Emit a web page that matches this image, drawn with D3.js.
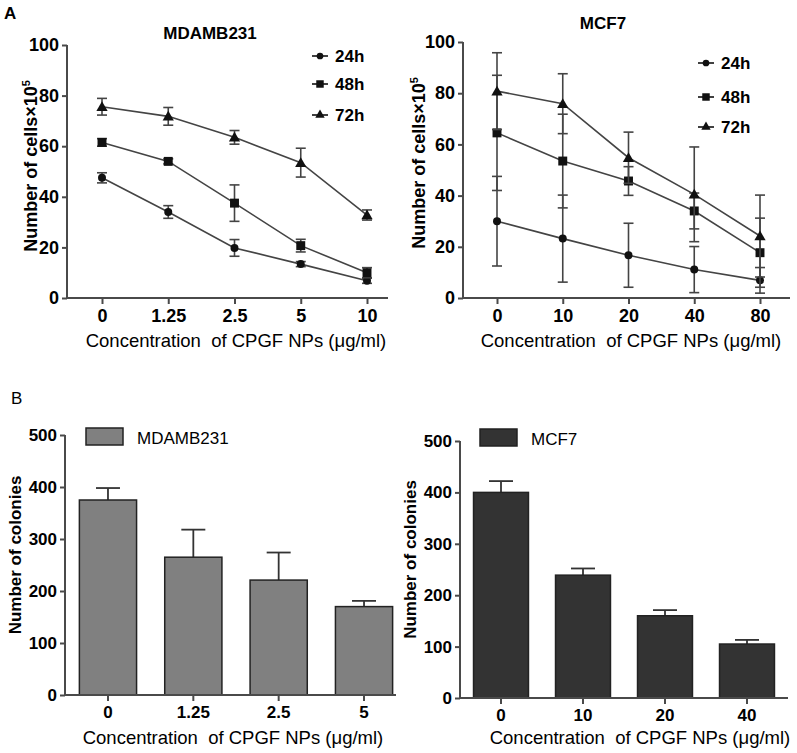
<!DOCTYPE html>
<html>
<head>
<meta charset="utf-8">
<script src="https://cdn.jsdelivr.net/npm/d3@7"></script>
<style>
  body { margin: 0; background: #fff; }
  svg { display: block; font-family: Arial, "Liberation Sans", sans-serif; }
</style>
</head>
<body>
<svg id="chart" width="797" height="753"></svg>
<script>
// ---------- DATA ----------
const seriesNames = ["24h", "48h", "72h"];
const mdaConc = ["0", "1.25", "2.5", "5", "10"];
const mda24 = [47.5, 34, 19.8, 13.4, 6.8];
const mda24Err = [2, 2.5, 3.3, 1, 1];
const mda48 = [61.5, 54, 37.5, 20.7, 10];
const mda48Err = [1.5, 1, 7.2, 2.5, 2];
const mda72 = [75.6, 71.8, 63.5, 53.5, 32.8];
const mda72Err = [3.3, 3.5, 2.7, 5.7, 2];

const mcfConc = ["0", "10", "20", "40", "80"];
const mcf24 = [30, 23.2, 16.7, 11.1, 6.9];
const mcf24Err = [17.5, 17, 12.5, 9, 5];
const mcf48 = [64.5, 53.5, 45.7, 34, 17.7];
const mcf48Err = [22.5, 18.3, 5.6, 7, 13.5];
const mcf72 = [80.8, 75.9, 54.8, 40.5, 24.2];
const mcf72Err = [15, 11.7, 10, 18.5, 16];

const lineTicks = [0, 20, 40, 60, 80, 100];

const colMdaConc = ["0", "1.25", "2.5", "5"];
const colMda = [375, 265, 221, 170];
const colMdaErr = [23, 53, 53, 11];
const colMcfConc = ["0", "10", "20", "40"];
const colMcf = [400, 239, 160, 105];
const colMcfErr = [22, 13, 11, 8];
const barTicks = [0, 100, 200, 300, 400, 500];

const xTitle = "Concentration\u00a0 of CPGF NPs (\u03bcg/ml)";

// ---------- DRAW ----------
const svg = d3.select("#chart");
const axisColor = "#4a4a4a";
const lineColor = "#444";

svg.append("text").attr("x", 4).attr("y", 19).attr("font-size", 17)
  .attr("font-weight", "bold").text("A");
svg.append("text").attr("x", 11).attr("y", 404).attr("font-size", 17)
  .text("B");

function styleAxis(g) {
  g.selectAll(".domain").remove();
  g.selectAll(".tick line").attr("stroke", axisColor).attr("stroke-width", 2);
  g.selectAll(".tick text").attr("fill", "#000").attr("font-family", "Arial, 'Liberation Sans', sans-serif");
}

function linePanel(o) {
  const g = svg.append("g");
  const x = d3.scalePoint().domain(o.cats).range([o.x0, o.x1]);
  const y = d3.scaleLinear().domain([0, 100]).range([o.yb, o.yt]);

  // axes
  const ya = g.append("g").attr("transform", `translate(${o.ax},0)`)
    .call(d3.axisLeft(y).tickValues(lineTicks).tickSize(5).tickPadding(3));
  styleAxis(ya);
  ya.selectAll(".tick text").attr("font-size", 18).attr("font-weight", "bold");
  g.append("line").attr("x1", o.ax).attr("x2", o.ax).attr("y1", o.yt).attr("y2", o.yb + 1)
    .attr("stroke", axisColor).attr("stroke-width", 2);

  const xa = g.append("g").attr("transform", `translate(0,${o.yb})`)
    .call(d3.axisBottom(x).tickSize(6).tickPadding(5));
  styleAxis(xa);
  xa.selectAll(".tick text").attr("font-size", 18).attr("font-weight", "bold");
  g.append("line").attr("x1", o.ax - 1).attr("x2", o.axEnd).attr("y1", o.yb).attr("y2", o.yb)
    .attr("stroke", axisColor).attr("stroke-width", 2);

  // titles
  g.append("text").attr("x", o.titleX).attr("y", o.titleY).attr("text-anchor", "middle")
    .attr("font-size", 17).attr("font-weight", "bold").text(o.title);
  const yt = g.append("text")
    .attr("transform", `translate(${o.yTitleX},${o.yTitleY}) rotate(-90)`)
    .attr("text-anchor", "middle").attr("font-size", 18).attr("font-weight", "bold");
  yt.append("tspan").text("Number of cells\u00d710");
  yt.append("tspan").attr("font-size", 11).attr("dy", -7).text("5");
  g.append("text").attr("x", o.xTitleX).attr("y", 347).attr("text-anchor", "middle")
    .attr("font-size", 18.5).text(xTitle);

  // series
  const shapes = [d3.symbolCircle, d3.symbolSquare, d3.symbolTriangle];
  const sizes = [50, 80, 55];
  o.series.forEach((s, si) => {
    const pts = o.cats.map((c, i) => ({ c, v: s.vals[i], e: s.errs[i] }));
    g.append("path").datum(pts)
      .attr("d", d3.line().x(d => x(d.c)).y(d => y(d.v)))
      .attr("fill", "none").attr("stroke", lineColor).attr("stroke-width", 1.6);
    pts.forEach(d => {
      const cx = x(d.c);
      const t = y(d.v + d.e), b = y(Math.max(0, d.v - d.e));
      g.append("line").attr("x1", cx).attr("x2", cx).attr("y1", t).attr("y2", b)
        .attr("stroke", lineColor).attr("stroke-width", 1.6);
      [t, b].forEach(yy => g.append("line").attr("x1", cx - 5).attr("x2", cx + 5)
        .attr("y1", yy).attr("y2", yy).attr("stroke", lineColor).attr("stroke-width", 1.6));
    });
    g.selectAll(null).data(pts).enter().append("path")
      .attr("transform", d => `translate(${x(d.c)},${y(d.v) + (si === 2 ? 1 : 0)})`)
      .attr("d", d3.symbol().type(shapes[si]).size(sizes[si]))
      .attr("fill", "#111");

    // legend
    const ly = o.legY[si];
    g.append("line").attr("x1", o.legX - 8).attr("x2", o.legX + 8).attr("y1", ly).attr("y2", ly)
      .attr("stroke", "#111").attr("stroke-width", 1.6);
    g.append("path").attr("transform", `translate(${o.legX},${ly})`)
      .attr("d", d3.symbol().type(shapes[si]).size(sizes[si] * 0.7)).attr("fill", "#111");
    g.append("text").attr("x", o.legX + 15).attr("y", ly + 6)
      .attr("font-size", 17).attr("font-weight", "bold").text(seriesNames[si]);
  });
}

linePanel({
  cats: mdaConc, x0: 102, x1: 367, ax: 67, axEnd: 388, yt: 45, yb: 298,
  title: "MDAMB231", titleX: 210, titleY: 39, yTitleX: 37, yTitleY: 166, xTitleX: 236,
  legX: 320, legY: [56, 84, 115],
  series: [{ vals: mda24, errs: mda24Err }, { vals: mda48, errs: mda48Err }, { vals: mda72, errs: mda72Err }]
});
linePanel({
  cats: mcfConc, x0: 497, x1: 760, ax: 463, axEnd: 790, yt: 42, yb: 298,
  title: "MCF7", titleX: 603, titleY: 29, yTitleX: 425, yTitleY: 163, xTitleX: 631,
  legX: 706, legY: [63, 97, 127],
  series: [{ vals: mcf24, errs: mcf24Err }, { vals: mcf48, errs: mcf48Err }, { vals: mcf72, errs: mcf72Err }]
});

function barPanel(o) {
  const g = svg.append("g");
  const x = d3.scaleBand().domain(o.cats).range([o.r0, o.r1]).paddingInner(0.33).paddingOuter(0.165);
  const y = d3.scaleLinear().domain([0, 500]).range([o.yb, o.yt]);

  const ya = g.append("g").attr("transform", `translate(${o.ax},0)`)
    .call(d3.axisLeft(y).tickValues(barTicks).tickSize(5).tickPadding(3));
  styleAxis(ya);
  ya.selectAll(".tick text").attr("font-size", 17).attr("font-weight", "bold");

  const data = o.cats.map((c, i) => ({ c, v: o.vals[i], e: o.errs[i] }));
  data.forEach(d => {
    const cx = x(d.c) + x.bandwidth() / 2;
    g.append("line").attr("x1", cx).attr("x2", cx).attr("y1", y(d.v)).attr("y2", y(d.v + d.e))
      .attr("stroke", "#333").attr("stroke-width", 1.8);
    g.append("line").attr("x1", cx - 12).attr("x2", cx + 12).attr("y1", y(d.v + d.e)).attr("y2", y(d.v + d.e))
      .attr("stroke", "#333").attr("stroke-width", 1.8);
  });
  g.selectAll(null).data(data).enter().append("rect")
    .attr("x", d => x(d.c)).attr("width", x.bandwidth())
    .attr("y", d => y(d.v)).attr("height", d => o.yb - y(d.v))
    .attr("fill", o.fill).attr("stroke", "#222").attr("stroke-width", 1.5);

  g.append("line").attr("x1", o.ax).attr("x2", o.ax).attr("y1", o.yt).attr("y2", o.yb + 1)
    .attr("stroke", axisColor).attr("stroke-width", 2);
  const xa = g.append("g").attr("transform", `translate(0,${o.yb})`)
    .call(d3.axisBottom(x).tickSize(6).tickPadding(5));
  styleAxis(xa);
  xa.selectAll(".tick text").attr("font-size", 17).attr("font-weight", "bold");
  g.append("line").attr("x1", o.ax - 1).attr("x2", o.axEnd).attr("y1", o.yb).attr("y2", o.yb)
    .attr("stroke", axisColor).attr("stroke-width", 2);

  g.append("text")
    .attr("transform", `translate(${o.yTitleX},${(o.yt + o.yb) / 2 - 10}) rotate(-90)`)
    .attr("text-anchor", "middle").attr("font-size", 17).attr("font-weight", "bold")
    .text("Number of colonies");
  g.append("text").attr("x", o.xTitleX).attr("y", 744).attr("text-anchor", "middle")
    .attr("font-size", 18.5).text(xTitle);

  // legend
  g.append("rect").attr("x", o.legX).attr("y", o.legY).attr("width", 37).attr("height", 17)
    .attr("fill", o.fill).attr("stroke", "#222").attr("stroke-width", 1.5);
  g.append("text").attr("x", o.legX + 51).attr("y", o.legY + 16)
    .attr("font-size", 17).text(o.name);
}

barPanel({
  cats: colMdaConc, vals: colMda, errs: colMdaErr, r0: 65.3, r1: 406.7,
  ax: 65, axEnd: 396, yt: 435, yb: 695, fill: "#808080", name: "MDAMB231",
  yTitleX: 21, xTitleX: 233, legX: 86, legY: 428
});
barPanel({
  cats: colMcfConc, vals: colMcf, errs: colMcfErr, r0: 460, r1: 788,
  ax: 460, axEnd: 788, yt: 441, yb: 698, fill: "#333333", name: "MCF7",
  yTitleX: 416, xTitleX: 640, legX: 480, legY: 429
});
</script>
</body>
</html>
